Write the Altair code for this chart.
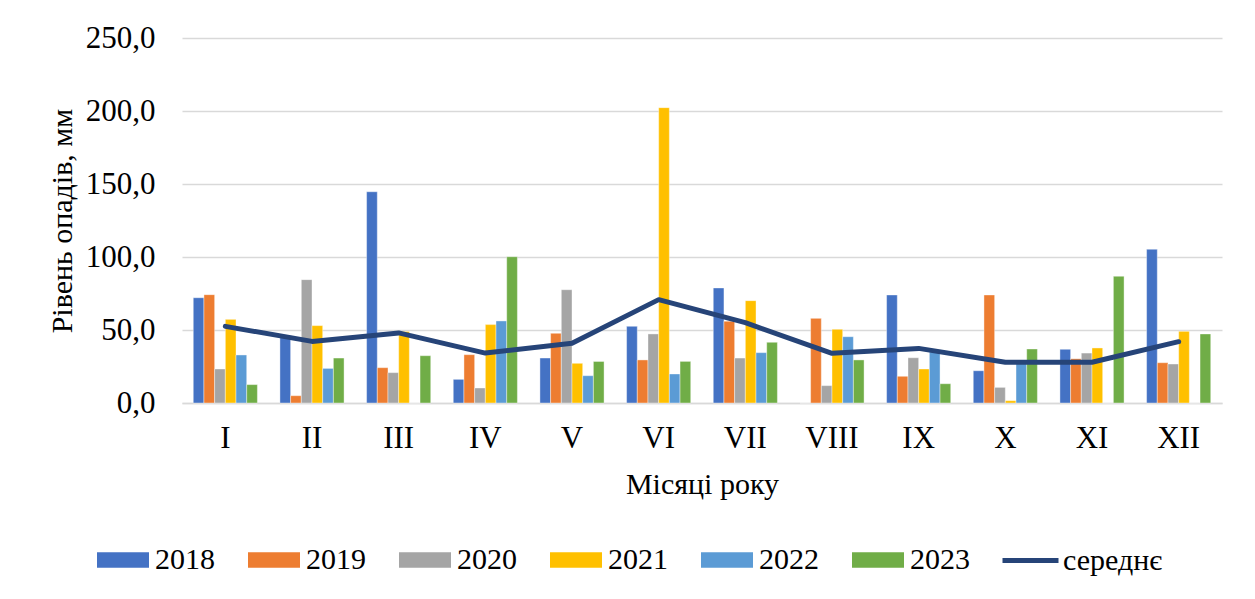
import altair as alt
import pandas as pd

months = ["I", "II", "III", "IV", "V", "VI", "VII", "VIII", "IX", "X", "XI", "XII"]
years = ["2018", "2019", "2020", "2021", "2022", "2023"]
y2018 = [72.1, 46.0, 144.7, 16.2, 30.8, 52.5, 78.8, 0.0, 74.0, 22.1, 36.8, 105.3]
y2019 = [74.2, 5.0, 24.2, 33.1, 47.7, 29.5, 56.0, 58.0, 18.3, 74.0, 30.3, 27.6]
y2020 = [23.3, 84.5, 20.8, 10.3, 77.6, 47.3, 30.8, 11.9, 31.0, 10.7, 34.2, 26.7]
y2021 = [57.3, 53.0, 49.0, 53.7, 27.2, 202.3, 70.1, 50.5, 23.3, 1.6, 37.7, 49.1]
y2022 = [32.9, 23.7, 0.0, 56.2, 18.7, 19.9, 34.5, 45.4, 35.0, 27.0, 0.0, 0.0]
y2023 = [12.6, 30.8, 32.4, 100.2, 28.5, 28.5, 41.6, 29.5, 13.2, 37.0, 86.8, 47.3]
avg = [52.5, 42.2, 48.0, 34.2, 40.9, 70.8, 55.0, 34.0, 37.4, 27.9, 27.9, 42.0]

colors = ["#4472C4", "#ED7D31", "#A5A5A5", "#FFC000", "#5B9BD5", "#70AD47"]
line_color = "#264478"
FONT = "Liberation Serif"

series = [y2018, y2019, y2020, y2021, y2022, y2023]
rows = []
for yr, vals in zip(years, series):
    for m, v in zip(months, vals):
        rows.append({"month": m, "year": yr, "value": v})
bars_df = pd.DataFrame(rows)
line_df = pd.DataFrame({"month": months, "value": avg, "series": ["середнє"] * 12})

xscale = alt.Scale(domain=months, paddingInner=0.26, paddingOuter=0.13)
yscale = alt.Scale(domain=[0, 250])

bars = alt.Chart(bars_df).mark_bar(stroke="white", strokeWidth=0.4).encode(
    x=alt.X("month:N", scale=xscale, sort=months,
            axis=alt.Axis(title="Місяці року", labelAngle=0, ticks=False,
                          labelPadding=20, titlePadding=16,
                          domainColor="#d9d9d9", domainWidth=1.5)),
    xOffset=alt.XOffset("year:N", sort=years, scale=alt.Scale(paddingInner=0, paddingOuter=0)),
    y=alt.Y("value:Q", scale=yscale,
            axis=alt.Axis(title="Рівень опадів, мм", values=[0, 50, 100, 150, 200, 250],
                          labelExpr="replace(format(datum.value, '.1f'), '.', ',')",
                          ticks=False, domain=False, labelPadding=27, titlePadding=8,
                          gridColor="#d9d9d9", gridWidth=1.5)),
    color=alt.Color("year:N", sort=years,
                    scale=alt.Scale(domain=years, range=colors),
                    legend=alt.Legend(title=None, orient="none", direction="horizontal",
                                      columns=6, legendX=-85, legendY=496,
                                      symbolType="M-1,-0.3H1V0.3H-1Z", symbolSize=2704,
                                      symbolStrokeWidth=0, labelFontSize=30, labelFont=FONT,
                                      labelColor="black", labelOffset=6,
                                      columnPadding=33, labelLimit=200)),
)

line = alt.Chart(line_df).mark_line(strokeWidth=5, strokeCap="round", strokeJoin="round").encode(
    x=alt.X("month:N", scale=xscale, sort=months, bandPosition=0.5),
    y=alt.Y("value:Q", scale=yscale),
    color=alt.Color("series:N", scale=alt.Scale(domain=["середнє"], range=[line_color]),
                    legend=alt.Legend(title=None, orient="none", legendX=818, legendY=492,
                                      symbolType="stroke", symbolSize=3136, symbolStrokeWidth=5,
                                      labelFontSize=30, labelFont=FONT, labelColor="black",
                                      labelOffset=2, labelLimit=200)),
)

chart = alt.layer(bars, line).resolve_scale(color="independent").properties(
    width=1040, height=365,
    padding={"left": 174, "top": 30, "right": 20, "bottom": 188},
    autosize=alt.AutoSizeParams(type="none"),
    background="white",
).configure_view(stroke=None).configure_axis(
    labelFont=FONT, titleFont=FONT, labelFontSize=31, titleFontSize=30,
    labelColor="black", titleColor="black", titleFontWeight="normal",
).configure_legend(
    labelFont=FONT, labelFontSize=30, labelColor="black",
)

chart.save("out.html", embed_options={"renderer": "svg", "actions": False})
